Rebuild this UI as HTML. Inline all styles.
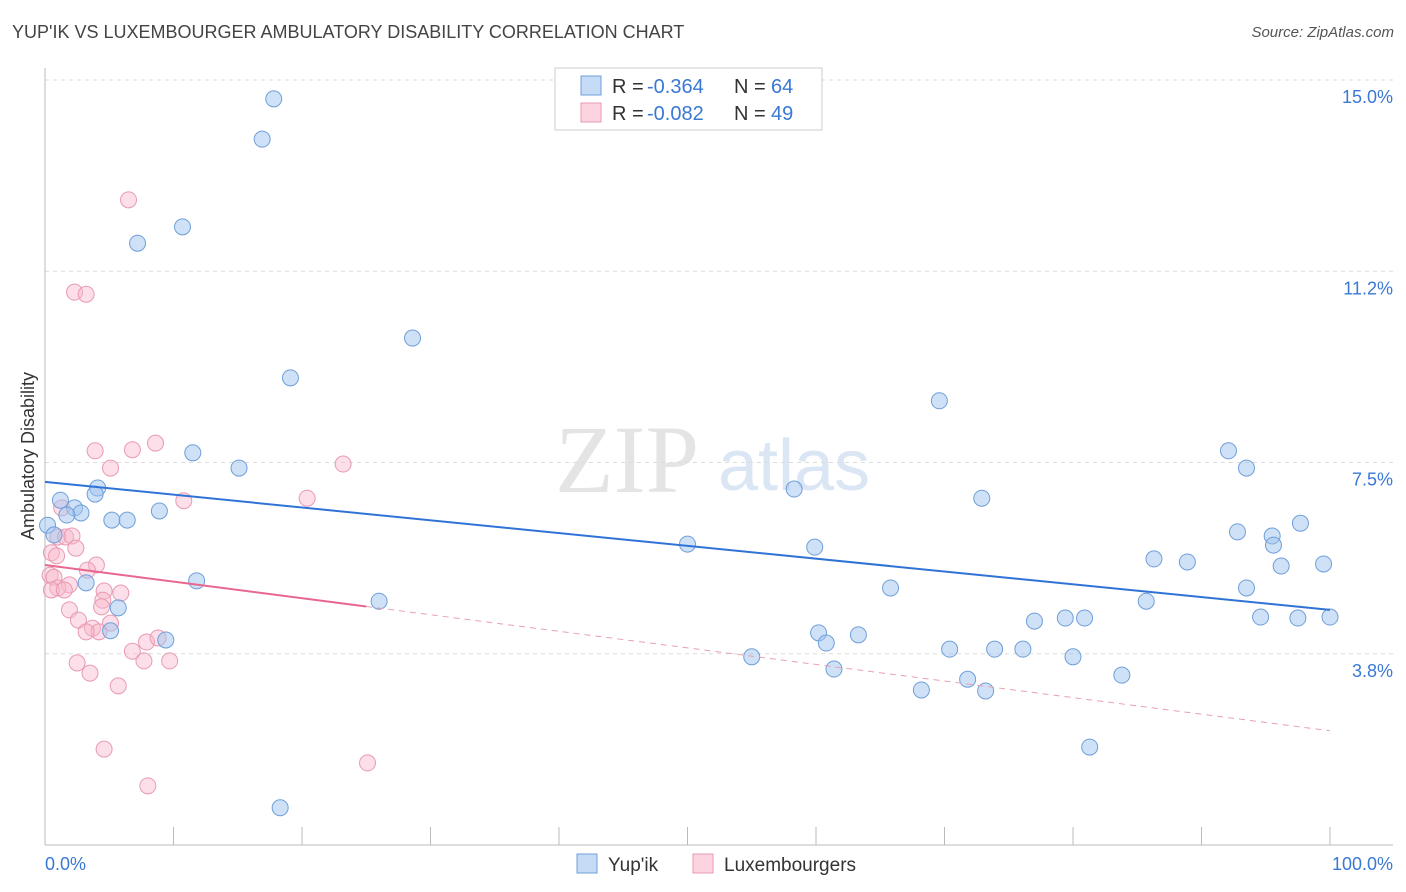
<!DOCTYPE html>
<html><head><meta charset="utf-8">
<style>
body{margin:0;background:#fff;font-family:"Liberation Sans",sans-serif;}
#wrap{position:relative;width:1406px;height:892px;overflow:hidden;}
.title{position:absolute;left:12px;top:22px;font-size:18px;color:#444;}
.source{position:absolute;right:12px;top:24px;font-size:15px;color:#555;font-style:italic;}
</style></head>
<body>
<div id="wrap">
<div class="title">YUP'IK VS LUXEMBOURGER AMBULATORY DISABILITY CORRELATION CHART</div>
<div class="source">Source: ZipAtlas.com</div>
<svg id="chart" width="1406" height="892" style="position:absolute;left:0;top:0"></svg>
</div>
<script>
const blueX=[17.8,16.9,10.7,7.2,28.6,19.1,69.6,11.5,15.1,92.1,93.5,4.1,3.9,1.2,2.3,2.8,1.7,8.9,5.2,6.4,58.3,72.9,97.7,92.8,95.5,95.6,0.2,0.7,50.0,59.9,86.3,88.9,96.2,99.5,3.2,11.8,65.8,93.5,5.7,26.0,85.7,77.0,79.4,80.9,94.6,97.5,100,5.1,9.4,60.2,60.8,63.3,55.0,61.4,70.4,73.9,76.1,80.0,71.8,68.2,73.2,83.8,81.3,18.3];
const blueY=[14.63,13.84,12.12,11.80,9.94,9.16,8.71,7.69,7.39,7.73,7.39,7.00,6.88,6.76,6.61,6.51,6.47,6.55,6.37,6.37,6.98,6.80,6.31,6.14,6.06,5.88,6.27,6.08,5.90,5.84,5.61,5.55,5.47,5.51,5.14,5.18,5.04,5.04,4.65,4.78,4.78,4.39,4.45,4.45,4.47,4.45,4.47,4.20,4.02,4.16,3.96,4.12,3.69,3.45,3.84,3.84,3.84,3.69,3.25,3.04,3.02,3.33,1.92,0.73];
const pinkX=[6.5,2.3,3.2,8.6,3.9,6.8,23.2,5.1,20.4,10.8,1.3,1.0,1.6,2.1,2.4,0.5,0.9,4.0,3.3,0.4,0.7,1.9,1.0,0.5,1.5,5.9,4.6,4.5,4.4,1.9,5.1,2.6,3.7,4.2,3.2,7.9,8.8,6.8,7.7,9.7,2.5,3.5,5.7,4.6,8.0,25.1];
const pinkY=[12.65,10.84,10.80,7.88,7.73,7.75,7.47,7.39,6.80,6.75,6.61,6.04,6.04,6.06,5.82,5.73,5.67,5.49,5.39,5.29,5.25,5.10,5.04,5.00,5.00,4.94,4.98,4.80,4.67,4.61,4.35,4.41,4.25,4.18,4.18,3.98,4.06,3.80,3.61,3.61,3.57,3.37,3.12,1.88,1.16,1.61];
const blueTrend=[7.12,4.61];
const pinkTrend=[5.49,2.24];
const yTicks=[3.75,7.5,11.25,15];
const yTickLabels=["3.8%","7.5%","11.2%","15.0%"];
const xTicks=[0,10,20,30,40,50,60,70,80,90,100];

const NS="http://www.w3.org/2000/svg";
const svg=document.getElementById('chart');
const X0=45,X1=1330,Y0=845,PPU=51;
function xs(v){return X0+(X1-X0)*v/100;}
function ys(v){return Y0-v*PPU;}
function mk(tag,attrs,parent){const e=document.createElementNS(NS,tag);for(const k in attrs)e.setAttribute(k,attrs[k]);(parent||svg).appendChild(e);return e;}

const wm=mk('text',{x:555,y:492,'font-size':96,'font-family':'Liberation Serif',fill:'#e4e4e4'});


wm.textContent='ZIP';
const wm2=mk('text',{x:718,y:490,'font-size':72,'font-family':'Liberation Sans',fill:'#dbe6f5'});


wm2.textContent='atlas';

yTicks.forEach((t,i)=>{
  const g=mk('line',{x1:X0,x2:1393,y1:ys(t),y2:ys(t),stroke:'#dcdcdc','stroke-dasharray':'4,4'});
  
  
  const l=mk('text',{x:1393,y:ys(t)+23,'text-anchor':'end','font-size':18,fill:'#3a78d4'});
  
  
  l.textContent=yTickLabels[i];
});
const gridTop=mk('line',{x1:X0,x2:1393,y1:80,y2:80,stroke:'#dcdcdc','stroke-dasharray':'4,4'});


const yAxisLine=mk('line',{x1:X0,x2:X0,y1:68,y2:Y0,stroke:'#bbb'});


const xAxisLine=mk('line',{x1:X0,x2:1393,y1:Y0,y2:Y0,stroke:'#bbb'});


xTicks.forEach(t=>{
  const tk=mk('line',{x1:xs(t),x2:xs(t),y1:Y0,y2:Y0-18,stroke:'#bbb'});
  
  
});
const xl0=mk('text',{x:45,y:870,'font-size':18,fill:'#3a78d4'});


xl0.textContent='0.0%';
const xl1=mk('text',{x:1393,y:870,'text-anchor':'end','font-size':18,fill:'#3a78d4'});


xl1.textContent='100.0%';
const yt=mk('text',{x:34,y:456,'text-anchor':'middle','font-size':18,fill:'#333',transform:'rotate(-90 34 456)'});


yt.textContent='Ambulatory Disability';

function pts(xa,ya,fill,stroke,name){
  xa.forEach((v,i)=>{
    const c=mk('circle',{cx:xs(v),cy:ys(ya[i]),r:8,fill:fill,stroke:stroke,'stroke-width':1});
    
    
  });
}
pts(pinkX,pinkY,'rgba(248,184,204,0.45)','#e99ab3','luxembourger-point');
pts(blueX,blueY,'rgba(160,196,240,0.5)','#6f9fd8','yupik-point');

const bt=mk('line',{x1:xs(0),y1:ys(blueTrend[0]),x2:xs(100),y2:ys(blueTrend[1]),stroke:'#2f73d6','stroke-width':2});


const pm=pinkTrend[0]+(pinkTrend[1]-pinkTrend[0])*0.25;
const pt1=mk('line',{x1:xs(0),y1:ys(pinkTrend[0]),x2:xs(25),y2:ys(pm),stroke:'#e8678f','stroke-width':2});


const pt2=mk('line',{x1:xs(25),y1:ys(pm),x2:xs(100),y2:ys(pinkTrend[1]),stroke:'#e8a0b5','stroke-width':1,'stroke-dasharray':'6,5'});



const lg=mk('rect',{x:555,y:68,width:267,height:62,fill:'#fff',stroke:'#ccc'});


[[0,'rgba(160,196,240,0.6)','#6f9fd8','-0.364','64','legend-yupik'],[1,'rgba(248,184,204,0.6)','#e99ab3','-0.082','49','legend-luxembourger']].forEach(r=>{
  const y=76+r[0]*27;
  const s=mk('rect',{x:581,y:y,width:20,height:19,fill:r[1],stroke:r[2]});
  
  
  const parts=[[612,'R =','#333'],[647,r[3],'#3a78d4'],[734,'N =','#333'],[771,r[4],'#3a78d4']];
  parts.forEach(p=>{
    const t=mk('text',{x:p[0],y:y+17,'font-size':20,fill:p[2]});
    
    
    t.textContent=p[1];
  });
});
[[577,'rgba(160,196,240,0.6)','#6f9fd8',"Yup'ik",'bottom-legend-yupik'],[693,'rgba(248,184,204,0.6)','#e99ab3','Luxembourgers','bottom-legend-luxembourgers']].forEach(r=>{
  const s=mk('rect',{x:r[0],y:854,width:20,height:19,fill:r[1],stroke:r[2]});
  
  
  const t=mk('text',{x:r[0]+31,y:871,'font-size':19,fill:'#333'});
  
  
  t.textContent=r[3];
});
</script>
</body></html>
